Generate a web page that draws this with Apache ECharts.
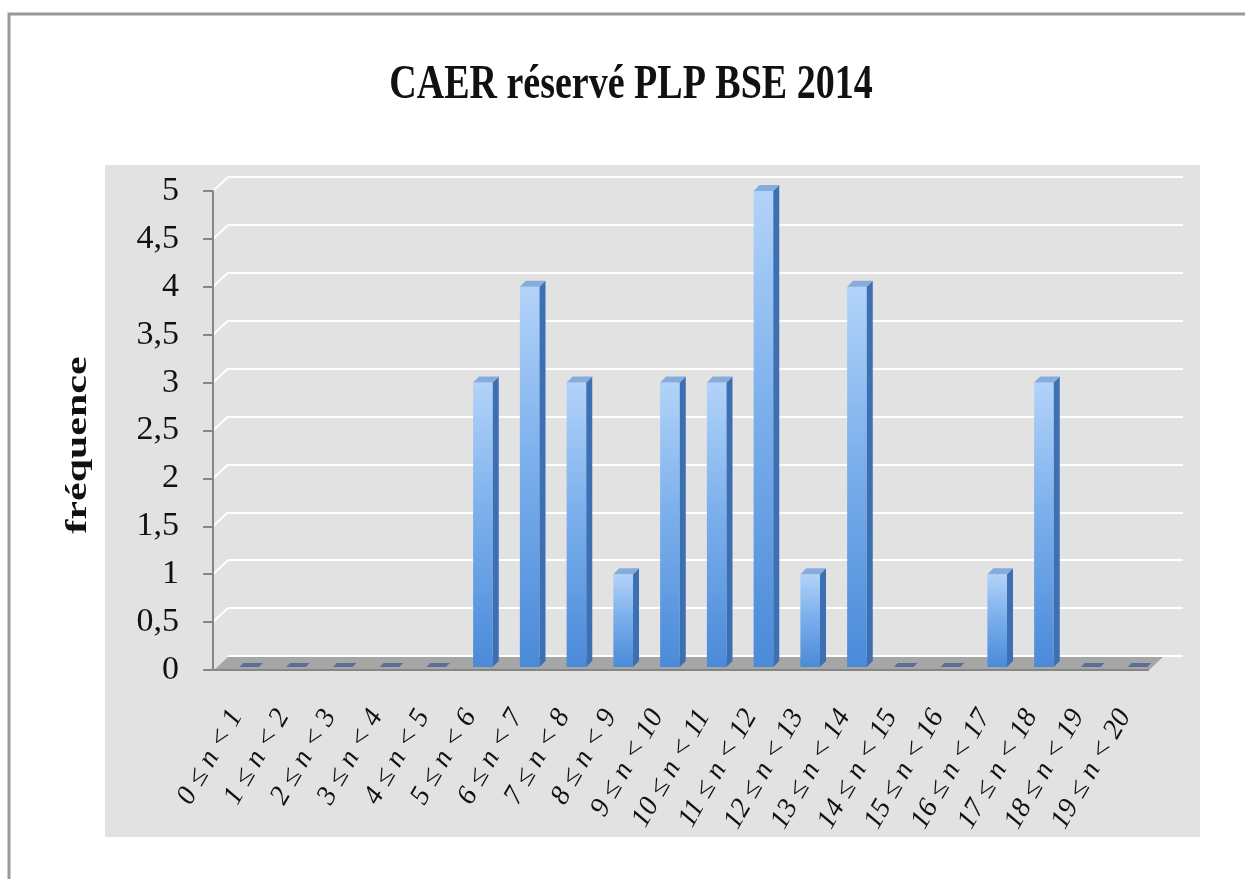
<!DOCTYPE html>
<html>
<head>
<meta charset="utf-8">
<script src="https://cdn.jsdelivr.net/npm/echarts@6/dist/echarts.min.js"></script>
<style>
  html, body { margin: 0; padding: 0; background: #fff; }
  #main { width: 1245px; height: 879px; }
</style>
</head>
<body>
<div id="main"></div>
<script>
// données
const categories = [
  '0 ≤ n < 1', '1 ≤ n < 2', '2 ≤ n < 3', '3 ≤ n < 4', '4 ≤ n < 5',
  '5 ≤ n < 6', '6 ≤ n < 7', '7 ≤ n < 8', '8 ≤ n < 9', '9 ≤ n < 10',
  '10 ≤ n < 11', '11 ≤ n < 12', '12 ≤ n < 13', '13 ≤ n < 14', '14 ≤ n < 15',
  '15 ≤ n < 16', '16 ≤ n < 17', '17 ≤ n < 18', '18 ≤ n < 19', '19 ≤ n < 20'
];
const frequencies = [0, 0, 0, 0, 0, 3, 4, 3, 1, 3, 3, 5, 1, 4, 0, 0, 1, 3, 0, 0];
const yTicks = [0, 0.5, 1, 1.5, 2, 2.5, 3, 3.5, 4, 4.5, 5];

const SERIF = '"Liberation Serif", "DejaVu Serif", serif';
const DX = 15, DY = 14; // profondeur du mur 3D

const chart = echarts.init(document.getElementById('main'));

function renderFloor(params, api) {
  const band = api.size([1, 0])[0];
  const left = api.coord([0, 0])[0] - band / 2;
  const right = api.coord([categories.length - 1, 0])[0] + band / 2;
  const y = api.coord([0, 0])[1] + 1;
  return {
    type: 'polygon',
    shape: { points: [[left, y], [right, y], [right + DX, y - DY], [left + DX, y - DY]] },
    style: { fill: '#a6a6a6' }
  };
}

function renderWallEdge(params, api) {
  const band = api.size([1, 0])[0];
  const p = api.coord([0, api.value(0)]);
  const x = p[0] - band / 2;
  return {
    type: 'line',
    shape: { x1: x, y1: p[1], x2: x + DX, y2: p[1] - DY },
    style: { stroke: '#ffffff', lineWidth: 2 }
  };
}

function renderBar(params, api) {
  const i = api.value(0);
  const v = api.value(1);
  const band = api.size([1, 0])[0];
  const base = api.coord([i, 0]);
  const top = api.coord([i, v]);
  const x0 = base[0] + 3;
  const w = band * 0.42;
  const dx = 6, dy = 6;
  const by = base[1] - 3;
  if (v === 0) {
    return {
      type: 'polygon',
      shape: { points: [[x0, by], [x0 + w, by], [x0 + w + 4, by - 4], [x0 + 4, by - 4]] },
      style: { fill: '#5a6e9a' }
    };
  }
  const ty = top[1];
  return {
    type: 'group',
    children: [
      {
        type: 'rect',
        shape: { x: x0, y: ty, width: w, height: by - ty },
        style: {
          fill: new echarts.graphic.LinearGradient(0, 0, 0, 1, [
            { offset: 0, color: '#b2d3f9' },
            { offset: 0.45, color: '#7cb0ec' },
            { offset: 1, color: '#4a8ad9' }
          ])
        }
      },
      {
        type: 'polygon',
        shape: { points: [[x0 + w, ty], [x0 + w + dx, ty - dy], [x0 + w + dx, by - dy], [x0 + w, by]] },
        style: { fill: '#3d70b2' }
      },
      {
        type: 'polygon',
        shape: { points: [[x0, ty], [x0 + w, ty], [x0 + w + dx, ty - dy], [x0 + dx, ty - dy]] },
        style: { fill: '#86acdc' }
      }
    ]
  };
}

const option = {
  animation: false,
  backgroundColor: '#ffffff',
  graphic: [
    {
      type: 'rect', z: -10,
      shape: { x: 9, y: 14, width: 1300, height: 900 },
      style: { fill: '#ffffff', stroke: '#999999', lineWidth: 3 }
    },
    {
      type: 'rect', z: -9,
      shape: { x: 105, y: 165, width: 1095, height: 672 },
      style: { fill: '#e2e2e2' }
    },
    {
      type: 'text', z: 10,
      x: 631, y: 86, scaleY: 1.25,
      style: {
        text: 'CAER réservé PLP BSE 2014',
        x: 0, y: 0, align: 'center', verticalAlign: 'middle',
        font: 'bold 38px ' + SERIF, fill: '#111111'
      }
    },
    {
      type: 'text', z: 10,
      x: 78, y: 445, rotation: Math.PI / 2, scaleX: 1.4,
      style: {
        text: 'fréquence',
        x: 0, y: 0, align: 'center', verticalAlign: 'middle',
        font: 'bold 30px ' + SERIF, fill: '#111111'
      }
    }
  ],
  grid: [
    { left: 213, right: 97, top: 191, bottom: 209 },
    { left: 228, right: 62, top: 177, bottom: 223 }
  ],
  xAxis: [
    {
      type: 'category',
      gridIndex: 0,
      data: categories,
      z: 3,
      axisLine: { lineStyle: { color: '#868686', width: 2 } },
      axisTick: { length: 8, lineStyle: { color: '#868686', width: 2 } },
      axisLabel: {
        interval: 0,
        rotate: 60,
        margin: 42,
        fontFamily: SERIF,
        fontStyle: 'italic',
        fontSize: 28,
        color: '#111111'
      }
    },
    {
      type: 'category',
      gridIndex: 1,
      data: categories,
      show: false
    }
  ],
  yAxis: [
    {
      type: 'value',
      gridIndex: 0,
      min: 0, max: 5, interval: 0.5,
      z: 3,
      axisLine: { show: true, lineStyle: { color: '#868686', width: 2 } },
      axisTick: { show: true, length: 10, lineStyle: { color: '#868686', width: 2 } },
      splitLine: { show: false },
      axisLabel: {
        margin: 34,
        fontFamily: SERIF,
        fontSize: 34,
        color: '#111111',
        formatter: v => String(v).replace('.', ',')
      }
    },
    {
      type: 'value',
      gridIndex: 1,
      min: 0, max: 5, interval: 0.5,
      axisLine: { show: false },
      axisTick: { show: false },
      axisLabel: { show: false },
      splitLine: { show: true, lineStyle: { color: '#ffffff', width: 2 } }
    }
  ],
  series: [
    {
      name: 'mur',
      type: 'custom',
      xAxisIndex: 0, yAxisIndex: 0,
      z: 1,
      silent: true,
      data: yTicks.slice(1).map(v => [v]),
      renderItem: renderWallEdge
    },
    {
      name: 'sol',
      type: 'custom',
      xAxisIndex: 0, yAxisIndex: 0,
      z: 1,
      silent: true,
      data: [[0]],
      renderItem: renderFloor
    },
    {
      name: 'fréquence',
      type: 'custom',
      xAxisIndex: 0, yAxisIndex: 0,
      z: 5,
      data: frequencies.map((v, i) => [i, v]),
      encode: { x: 0, y: 1 },
      renderItem: renderBar
    }
  ]
};

chart.setOption(option);
</script>
</body>
</html>
